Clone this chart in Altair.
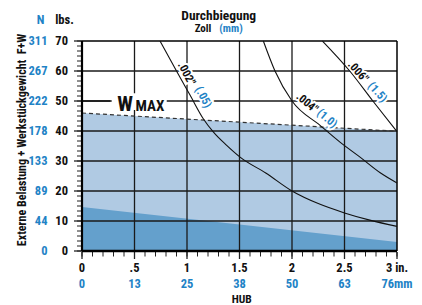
import altair as alt
import pandas as pd

# ---------------- data ----------------
x_ticks = [0, 0.5, 1, 1.5, 2, 2.5, 3]
x_in_labels = ["0", ".5", "1", "1.5", "2", "2.5", "3 in."]
x_mm_labels = ["0", "13", "25", "38", "50", "63", "76mm"]
y_ticks = [0, 10, 20, 30, 40, 50, 60, 70]
y_lbs_labels = ["0", "10", "20", "30", "40", "50", "60", "70"]
y_n_labels = ["0", "44", "89", "133", "178", "222", "267", "311"]

wmax_x = [0, 3]
wmax_y = [46.0, 39.9]
base_x = [0, 3]
base_y = [14.7, 3.0]

c002_x = [0.743, 0.90, 1.03, 1.155, 1.25, 1.378, 1.505, 1.75, 2.0, 2.25, 2.5, 2.75, 3.0]
c002_y = [70, 60, 51.9, 44.1, 39.7, 35.2, 31.3, 26, 20, 15.8, 12.7, 10.2, 8.2]
c004_x = [1.727, 1.838, 2.0, 2.267, 2.457, 2.648, 2.84, 3.0]
c004_y = [70, 60, 50, 41.9, 36.3, 31.3, 26.1, 22.7]
c006_x = [2.29, 2.55, 2.77, 3.0]
c006_y = [70, 60, 50, 39.8]

# curve labels
lbl_in = ['.002"', '.004"', '.006"']
lbl_mm = ['(.05)', '(1.0)', '(1.5)']
lbl_in_x = [0.99, 2.14, 2.625]
lbl_in_y = [59.0, 49.2, 59.6]
lbl_mm_x = [1.15, 2.33, 2.81]
lbl_mm_y = [51.2, 44.0, 52.8]
lbl_angle = [62, 40, 48]

# ---------------- style ----------------
LIGHT = "#b0cae3"
DARK = "#64a0cc"
BLUE = "#1f83c6"
INK = "#111111"
GRID = "#1a1a1a"
FONT = "Liberation Sans Narrow, Roboto Condensed, DejaVu Sans Condensed, Liberation Sans, sans-serif"

XS = alt.Scale(domain=[0, 3], nice=False, zero=False)
YS = alt.Scale(domain=[0, 70], nice=False, zero=False)


def X(f):
    return alt.X(f, type="quantitative", scale=XS, axis=None)


def Y(f):
    return alt.Y(f, type="quantitative", scale=YS, axis=None)


def text_layer(df, size, color, align="center", baseline="middle", angle=0, x=None, y=None,
               halo=False):
    kw = dict(font=FONT, fontWeight="bold", fontSize=size, color=color, align=align,
              baseline=baseline)
    if angle:
        kw["angle"] = angle
    if halo:
        kw["stroke"] = "white"
        kw["strokeWidth"] = 4
    enc = dict(text="t:N")
    enc["x"] = x if x is not None else X("x")
    enc["y"] = y if y is not None else Y("y")
    return alt.Chart(df).mark_text(**kw).encode(**enc)


w_df = pd.DataFrame({"x": wmax_x, "y": wmax_y, "y0": [0, 0]})
b_df = pd.DataFrame({"x": base_x, "y": base_y, "y0": [0, 0]})
curves = pd.concat([
    pd.DataFrame({"x": c002_x, "y": c002_y, "c": "002"}),
    pd.DataFrame({"x": c004_x, "y": c004_y, "c": "004"}),
    pd.DataFrame({"x": c006_x, "y": c006_y, "c": "006"}),
])
xt = pd.DataFrame({"x": x_ticks, "lin": x_in_labels, "lmm": x_mm_labels})
yt = pd.DataFrame({"y": y_ticks, "lbs": y_lbs_labels, "n": y_n_labels})

light = alt.Chart(w_df).mark_area(color=LIGHT, opacity=1).encode(
    x=X("x"), y=Y("y"), y2="y0:Q")
dark = alt.Chart(b_df).mark_area(color=DARK, opacity=1).encode(
    x=X("x"), y=Y("y"), y2="y0:Q")


def vrules(xs, width, color):
    df = pd.DataFrame({"x": xs, "ya": [0] * len(xs), "yb": [70] * len(xs)})
    return alt.Chart(df).mark_rule(color=color, strokeWidth=width).encode(
        x=X("x"), y=Y("ya"), y2="yb:Q")


def hrules(ys, width, color, xa=0, xb=3):
    df = pd.DataFrame({"y": ys, "xa": [xa] * len(ys), "xb": [xb] * len(ys)})
    return alt.Chart(df).mark_rule(color=color, strokeWidth=width).encode(
        y=Y("y"), x=X("xa"), x2="xb:Q")


vgrid = vrules(x_ticks[1:-1], 1.3, GRID)
hgrid = hrules(y_ticks[1:-1], 1.3, GRID)
right_border = vrules([3], 1.5, "#000")
top_border = hrules([70], 1.5, "#000")
left_axis = vrules([0], 2.2, "#000")
bottom_axis = hrules([0], 2.4, "#000")

y_minor = [i * 10 / 6 for i in range(43)]
x_minor = [i * 0.1 for i in range(31)]
ytick_minor = alt.Chart(pd.DataFrame({"y": y_minor})).mark_rule(
    color="#222", strokeWidth=1).encode(y=Y("y"), x=alt.value(-5), x2=alt.value(0))
ytick_major = alt.Chart(yt).mark_rule(color="#222", strokeWidth=1.3).encode(
    y=Y("y"), x=alt.value(-8), x2=alt.value(0))
xtick_minor = alt.Chart(pd.DataFrame({"x": x_minor})).mark_rule(
    color="#222", strokeWidth=1).encode(x=X("x"), y=alt.value(211), y2=alt.value(215.5))
xtick_major = alt.Chart(xt).mark_rule(color="#222", strokeWidth=1.3).encode(
    x=X("x"), y=alt.value(211), y2=alt.value(218))

# W MAX annotation
wbox = alt.Chart(pd.DataFrame({"x": [0.283], "x2": [0.807], "y": [47.0], "y2": [52.6]})).mark_rect(
    color="white").encode(x=X("x"), x2="x2:Q", y=Y("y"), y2="y2:Q")
wlead = hrules([50], 2, "#222", 0, 0.27)
wtxt = text_layer(pd.DataFrame({"x": [0.41], "y": [46.6], "t": ["W"]}), 21, INK,
                  baseline="alphabetic")
maxtxt = text_layer(pd.DataFrame({"x": [0.51], "y": [46.6], "t": ["MAX"]}), 15, INK,
                    align="left", baseline="alphabetic")

wline = alt.Chart(w_df).mark_line(color="#333", strokeWidth=1.2, strokeDash=[4, 3]).encode(
    x=X("x"), y=Y("y"))

curve_lines = alt.Chart(curves).mark_line(color=INK, strokeWidth=1.1, interpolate="monotone").encode(
    x=X("x"), y=Y("y"), detail="c:N")

halos = []
ctexts = []
for i in range(3):
    din = pd.DataFrame({"x": [lbl_in_x[i]], "y": [lbl_in_y[i]], "t": [lbl_in[i]]})
    dmm = pd.DataFrame({"x": [lbl_mm_x[i]], "y": [lbl_mm_y[i]], "t": [lbl_mm[i]]})
    halos.append(text_layer(din, 11.5, "white", angle=lbl_angle[i], halo=True))
    halos.append(text_layer(dmm, 11.5, "white", angle=lbl_angle[i], halo=True))
    ctexts.append(text_layer(din, 11.5, INK, angle=lbl_angle[i]))
    ctexts.append(text_layer(dmm, 11.5, BLUE, angle=lbl_angle[i]))

# axis labels
lbs_txt = alt.Chart(yt).mark_text(font=FONT, fontWeight="bold", fontSize=12.5, align="right",
                                  baseline="middle", color=INK).encode(
    y=Y("y"), x=alt.value(-14), text="lbs:N")
n_txt = alt.Chart(yt).mark_text(font=FONT, fontWeight="bold", fontSize=12.5, align="right",
                                baseline="middle", color=BLUE).encode(
    y=Y("y"), x=alt.value(-34.5), text="n:N")
xin_txt = alt.Chart(xt).mark_text(font=FONT, fontWeight="bold", fontSize=12.5, align="center",
                                  baseline="middle", color=INK).encode(
    x=X("x"), y=alt.value(227), text="lin:N")
xmm_txt = alt.Chart(xt).mark_text(font=FONT, fontWeight="bold", fontSize=12.5, align="center",
                                  baseline="middle", color=BLUE).encode(
    x=X("x"), y=alt.value(243), text="lmm:N")

hdr_n = text_layer(pd.DataFrame({"t": ["N"]}), 12.5, BLUE, x=alt.value(-41.5), y=alt.value(-21))
hdr_lbs = text_layer(pd.DataFrame({"t": ["lbs."]}), 12.5, INK, x=alt.value(-17.5), y=alt.value(-21))
title1 = text_layer(pd.DataFrame({"t": ["Durchbiegung"]}), 13.5, INK, x=alt.value(136.7), y=alt.value(-25))
title2 = text_layer(pd.DataFrame({"t": ["Zoll"]}), 11, INK, x=alt.value(121), y=alt.value(-12.5))
title3 = text_layer(pd.DataFrame({"t": ["(mm)"]}), 11, BLUE, x=alt.value(149), y=alt.value(-12.5))
hub = text_layer(pd.DataFrame({"t": ["HUB"]}), 11.5, INK, x=alt.value(159.7), y=alt.value(259))
ytitle = text_layer(pd.DataFrame({"t": ["Externe Belastung + Werkstückgewicht\u00a0 F+W"]}), 12, INK,
                    angle=270, x=alt.value(-60), y=alt.value(99))

chart = alt.layer(
    light, dark, vgrid, hgrid, right_border, top_border,
    ytick_minor, ytick_major, xtick_minor, xtick_major,
    wbox, wlead, wline, *halos, curve_lines, *ctexts, wtxt, maxtxt,
    left_axis, bottom_axis,
    lbs_txt, n_txt, xin_txt, xmm_txt, hdr_n, hdr_lbs, title1, title2, title3, hub, ytitle,
).properties(
    width=315, height=210,
    autosize=alt.AutoSizeParams(type="none"),
    padding={"left": 74, "top": 33, "right": 17, "bottom": 56},
).configure_view(stroke=None)

chart.save("out.html", embed_options={"renderer": "svg", "actions": False})
